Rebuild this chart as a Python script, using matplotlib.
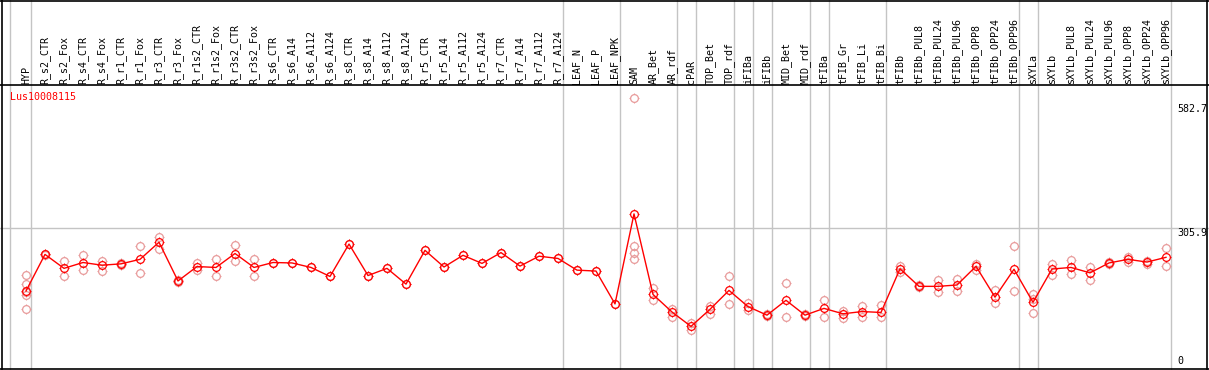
import matplotlib
matplotlib.use('Agg')
import matplotlib.pyplot as plt
from matplotlib.path import Path
from matplotlib.lines import Line2D
from matplotlib.transforms import blended_transform_factory
import numpy as np

# ---------------- data ----------------
categories = [
    "HYP", "R_s2_CTR", "R_s2_Fox", "R_s4_CTR", "R_s4_Fox", "R_r1_CTR", "R_r1_Fox",
    "R_r3_CTR", "R_r3_Fox", "R_r1s2_CTR", "R_r1s2_Fox", "R_r3s2_CTR", "R_r3s2_Fox",
    "R_s6_CTR", "R_s6_A14", "R_s6_A112", "R_s6_A124",
    "R_s8_CTR", "R_s8_A14", "R_s8_A112", "R_s8_A124",
    "R_r5_CTR", "R_r5_A14", "R_r5_A112", "R_r5_A124",
    "R_r7_CTR", "R_r7_A14", "R_r7_A112", "R_r7_A124",
    "LEAF_N", "LEAF_P", "LEAF_NPK", "SAM", "AR_Bet", "AR_rdf", "cPAR",
    "TOP_Bet", "TOP_rdf", "iFIBa", "iFIBb", "MID_Bet", "MID_rdf", "tFIBa",
    "tFIB_Gr", "tFIB_Li", "tFIB_Bi", "tFIBb",
    "tFIBb_PUL8", "tFIBb_PUL24", "tFIBb_PUL96", "tFIBb_OPP8", "tFIBb_OPP24", "tFIBb_OPP96",
    "sXYLa", "sXYLb",
    "sXYLb_PUL8", "sXYLb_PUL24", "sXYLb_PUL96", "sXYLb_OPP8", "sXYLb_OPP24", "sXYLb_OPP96",
]

means = [
    166.7, 248, 217, 230, 224, 227, 237, 275, 189, 221, 219, 250, 219,
    230, 229, 219, 199,
    271, 201, 217, 182,
    257, 220, 246, 228,
    252, 222, 244, 239,
    213, 211, 138, 338, 159, 120, 88,
    126, 168, 132, 113, 146, 113, 128,
    116, 121, 119, 216,
    177, 177, 180, 221.5, 153, 215,
    141.5, 215.5,
    219, 207, 229, 237, 231, 241.5,
]

replicates = [
    [202, 182, 164, 158, 127], [250, 246], [233, 201], [247, 214], [233, 212],
    [229, 225], [266, 206], [287, 261], [191, 187], [228, 214], [237, 201],
    [270, 233], [237, 201],
    [230], [229], [219], [199],
    [271], [201], [217], [182],
    [257], [220], [246], [228],
    [252], [222], [244], [239],
    [213], [211], [138], [595, 267, 252, 237], [173, 147], [127, 110], [96, 80],
    [133, 116], [200, 138], [139, 124], [115, 111], [184, 108], [115, 111], [147, 110],
    [123, 106], [134, 108], [136, 110], [222, 210],
    [179, 175], [191, 164], [193, 166], [227, 214], [168, 139], [266, 167],
    [161, 149, 117], [227, 203],
    [235, 204], [220, 191], [231, 227], [243, 231], [233, 226], [261.5, 221.5],
]

ytick_values = [582.7, 305.9, 0]
ytick_labels = ["582.7", "305.9", "0"]
gridline_value = 305.9
series_name = "Lus10008115"

# group boundaries (after these category indices)
group_ends = [0, 28, 31, 34, 35, 37, 38, 39, 41, 42, 45, 52, 53, 60]

# ---------------- layout ----------------
W, H = 1209, 370
fig = plt.figure(figsize=(W / 100, H / 100), dpi=100)
fig.patch.set_facecolor('white')

def fx(px):
    return px / W

def fy(py):
    return 1 - py / H

HEADER = 85
ax = fig.add_axes([0, 0, 1, fy(HEADER)])
ax.axis('off')
x0, dx = 26, 19          # pixel of first category, pixel step
ppu = 0.45               # pixels per value unit
y0 = 366                 # pixel row of value 0
ax.set_xlim((0 - x0) / dx, (W - x0) / dx)
ax.set_ylim((y0 - H) / ppu, (y0 - HEADER) / ppu)

FONT = 'DejaVu Sans Mono'
FS = 7.2
GRAY = '#c4c4c4'
PINK = '#e89a9a'

# tick marks around each circle marker
ticks = Path([(0, 1), (0, 1.4), (0, -1), (0, -1.4), (1, 0), (1.4, 0), (-1, 0), (-1.4, 0)],
             [Path.MOVETO, Path.LINETO] * 4)
TMS = 7.8
CMS = TMS / 1.4

# grid
ax.axhline(gridline_value, color=GRAY, lw=1, zorder=0)
ext = H / (H - HEADER)
ax.axvline(-0.84, ymin=0, ymax=ext, color=GRAY, lw=1, clip_on=False, zorder=0)
for g in group_ends:
    ax.axvline(g + 0.24, ymin=0, ymax=ext, color=GRAY, lw=1, clip_on=False, zorder=0)

# replicates
for i, reps in enumerate(replicates):
    xi = [i] * len(reps)
    ax.plot(xi, reps, ls='none', marker='o', ms=CMS, mfc='none', mec=PINK, mew=0.9, zorder=2)
    ax.plot(xi, reps, ls='none', marker=ticks, ms=TMS, mec=PINK, mew=0.8, zorder=2)

# means
xs = np.arange(len(categories))
ax.plot(xs, means, color='red', lw=1, marker='o', ms=CMS, mfc='none', mec='red',
        mew=0.9, zorder=3)
ax.plot(xs, means, ls='none', marker=ticks, ms=TMS, mec='red', mew=0.8, zorder=3)

# header labels
tr = blended_transform_factory(ax.transData, fig.transFigure)
for i, name in enumerate(categories):
    ax.text(i, fy(83.5), name, rotation=90, ha='center', va='bottom', fontsize=FS,
            family=FONT, transform=tr, color='black')

# y labels on right
tr2 = blended_transform_factory(fig.transFigure, ax.transData)
for v, lab in zip(ytick_values, ytick_labels):
    ax.text(fx(1177), v, lab, ha='left', va='bottom' if v == 0 else 'top',
            fontsize=FS, family=FONT, transform=tr2, color='black')

# series name
fig.text(fx(10), fy(97), series_name, color='red', ha='left', va='center',
         fontsize=FS, family=FONT)

# frame lines
def hline(py, x1=0, x2=W):
    fig.add_artist(Line2D([fx(x1), fx(x2)], [fy(py), fy(py)], color='black', lw=1.2))

def vline(px, y1=0, y2=H):
    fig.add_artist(Line2D([fx(px), fx(px)], [fy(y1), fy(y2)], color='black', lw=1.2))

hline(0.6)
hline(HEADER)
hline(368.6)
vline(1.6, 0, 369)
vline(1207, 0, 369)

fig.savefig('out.png', dpi=100, facecolor='white')
